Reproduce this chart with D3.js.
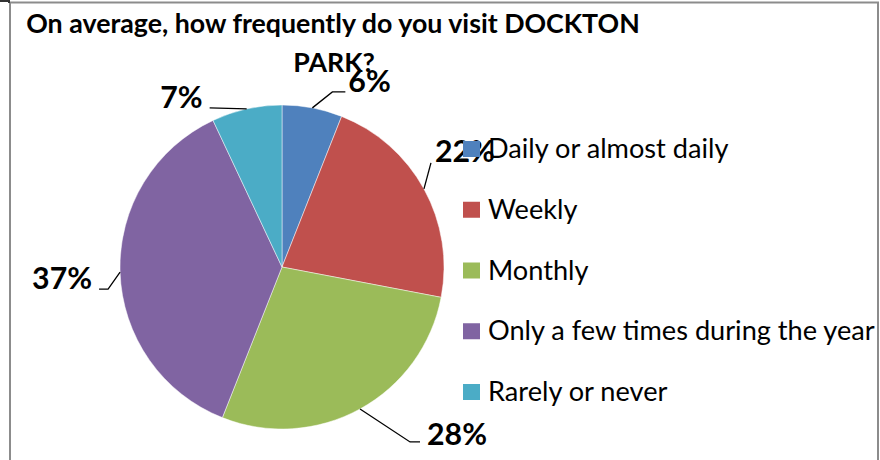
<!DOCTYPE html>
<html>
<head>
<meta charset="utf-8">
<script src="https://cdn.jsdelivr.net/npm/d3@7"></script>
<style>
  html, body { margin: 0; padding: 0; background: #fff; }
  svg { display: block; }
</style>
</head>
<body>
<svg id="chart" width="880" height="460"></svg>
<script>
// ---- data ----
const categories = ["Daily or almost daily", "Weekly", "Monthly", "Only a few times during the year", "Rarely or never"];
const values = [6, 22, 28, 37, 7];
const colors = ["#4F81BD", "#C0504D", "#9BBB59", "#8064A2", "#4BACC6"];
const titleLines = ["On average, how frequently do you visit DOCKTON", "PARK?"];

// ---- layout (not data) ----
const FONT = "Lato, 'Open Sans', 'Liberation Sans', sans-serif";
const cx = 282, cy = 267, R = 162;
// leader geometry per slice: points relative to slice edge point, text anchor offsets
const labelLayout = [
  { pts: [[20, -16], [33, -16]], text: [36, -16], anchor: "start" },
  { pts: [[7, -26]], text: [11, -27], anchor: "start" },
  { pts: [[50, 33], [60, 33]], text: [67, 36], anchor: "start" },
  { pts: [[-12, 17], [-21, 17]], text: [-28, 17], anchor: "end" },
  { pts: [[-37, -1]], text: [-44, -1], anchor: "end" }
];

function fitSize(sel, baseSize, targetWidth) {
  const w = sel.node().getComputedTextLength();
  const s = baseSize * targetWidth / w;
  sel.attr("font-size", s);
  return s;
}

const svg = d3.select("#chart");

// frame
svg.append("rect")
  .attr("x", 10).attr("y", 2.5)
  .attr("width", 868).attr("height", 470)
  .attr("fill", "#fff")
  .attr("stroke", "#8c8c8c").attr("stroke-width", 2);
svg.append("path")
  .attr("d", "M0,1H9V3")
  .attr("fill", "none").attr("stroke", "#333").attr("stroke-width", 2);

// title
const t1 = svg.append("text")
  .attr("x", 333).attr("y", 33)
  .attr("text-anchor", "middle")
  .attr("font-family", FONT).attr("font-weight", "bold")
  .attr("font-size", 25).attr("fill", "#000")
  .text(titleLines[0]);
const tSize = fitSize(t1, 25, 614);
svg.append("text")
  .attr("x", 334).attr("y", 72)
  .attr("text-anchor", "middle")
  .attr("font-family", FONT).attr("font-weight", "bold")
  .attr("font-size", tSize).attr("fill", "#000")
  .text(titleLines[1]);

// pie
const pie = d3.pie().sort(null).value(d => d)(values);
const arc = d3.arc().innerRadius(0).outerRadius(R);
const g = svg.append("g").attr("transform", `translate(${cx},${cy})`);
g.selectAll("path.slice")
  .data(pie)
  .join("path")
  .attr("class", "slice")
  .attr("d", arc)
  .attr("fill", (d, i) => colors[i])
  .attr("stroke", "#ffffff")
  .attr("stroke-opacity", 0.6)
  .attr("stroke-width", 0.8);

// leaders + labels
const total = d3.sum(values);
let labelSize = null;
pie.forEach((d, i) => {
  const mid = (d.startAngle + d.endAngle) / 2;
  const ex = Math.sin(mid) * R, ey = -Math.cos(mid) * R;
  const L = labelLayout[i];
  const line = [[ex, ey]].concat(L.pts.map(p => [ex + p[0], ey + p[1]]));
  g.append("path")
    .attr("d", d3.line()(line))
    .attr("fill", "none").attr("stroke", "#000").attr("stroke-width", 1.3);
  const t = g.append("text")
    .attr("x", ex + L.text[0]).attr("y", ey + L.text[1])
    .attr("text-anchor", L.anchor)
    .attr("font-family", FONT).attr("font-weight", "bold")
    .attr("font-size", 34).attr("fill", "#000")
    .text(Math.round(values[i] / total * 100) + "%");
  if (i === 2) labelSize = fitSize(t, 34, 60);
  t.attr("data-i", i);
});
g.selectAll("text").attr("font-size", labelSize);

// legend
const legY = d3.scalePoint().domain(categories).range([157, 400]);
const leg = svg.append("g");
const legTexts = [];
categories.forEach((c, i) => {
  const y = legY(c);
  leg.append("rect")
    .attr("x", 463).attr("y", y - 16)
    .attr("width", 17).attr("height", 16)
    .attr("fill", colors[i]);
  legTexts.push(leg.append("text")
    .attr("x", 488).attr("y", y + 1)
    .attr("font-family", FONT).attr("font-size", 29).attr("fill", "#000")
    .text(c));
});
const legSize = fitSize(legTexts[3], 29, 387);
legTexts.forEach(t => t.attr("font-size", legSize));
</script>
</body>
</html>
